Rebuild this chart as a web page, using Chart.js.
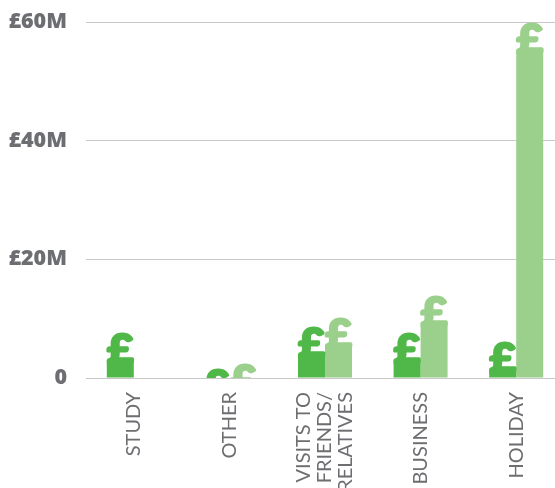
<!DOCTYPE html>
<html>
<head>
<meta charset="utf-8">
<style>
html, body { margin: 0; padding: 0; background: #fff; overflow: hidden; }
#wrap { width: 555px; height: 488px; overflow: hidden; }
</style>
<script src="https://cdn.jsdelivr.net/npm/chart.js@4/dist/chart.umd.js"></script>
</head>
<body>
<div id="wrap"><canvas id="chart" width="564" height="488"></canvas></div>
<script>
// values are in £M, measured to the top of each £ symbol
const categories = ["STUDY", "OTHER", ["VISITS TO", "FRIENDS/", "RELATIVES"], "BUSINESS", "HOLIDAY"];
const darkValues = [7.8, 1.7, 8.8, 7.8, 6.3];
const lightValues = [null, 2.45, 10.2, 14, 60];
const yTicks = [0, 20, 40, 60];

const DARK = "#50b848";
const LIGHT = "#9bd08c";
const TEXT = "#6d6e71";
const GLYPH_H = 28;
const LABEL_LINE = 21;

// bar is see-through for the top part, the £ sits there
function barFill(color) {
    return function (c) {
        const y = c.chart.scales.y;
        if (!y || c.raw == null) return color;
        const top = y.getPixelForValue(c.raw);
        const base = y.getPixelForValue(0);
        if (!isFinite(top) || !isFinite(base) || base <= top) return color;
        const stop = GLYPH_H / (base - top);
        if (stop >= 1) return "rgba(0,0,0,0)";
        const g = c.chart.ctx.createLinearGradient(0, top, 0, base);
        g.addColorStop(0, "rgba(255,255,255,0)");
        g.addColorStop(stop, "rgba(255,255,255,0)");
        g.addColorStop(stop, color);
        g.addColorStop(1, color);
        return g;
    };
}

const poundPlugin = {
    id: "pound",
    // rotated multi-line labels start at the tick, centre them on it instead
    beforeDraw(chart) {
        chart.scales.x.getLabelItems().forEach(function (item) {
            if (Array.isArray(item.label) && !item.centred) {
                item.options.translation[0] -= (item.label.length - 1) * LABEL_LINE / 2;
                item.centred = true;
            }
        });
    },
    afterDatasetsDraw(chart) {
        const ctx = chart.ctx;
        const area = chart.chartArea;
        ctx.save();
        ctx.beginPath();
        ctx.rect(area.left, 0, area.right - area.left, area.bottom);
        ctx.clip();
        ctx.font = "bold 40px Lato";
        ctx.textAlign = "center";
        ctx.textBaseline = "alphabetic";
        ctx.lineWidth = 3;
        ctx.lineJoin = "round";
        chart.data.datasets.forEach(function (ds, i) {
            ctx.fillStyle = ds.glyphColor;
            ctx.strokeStyle = ds.glyphColor;
            chart.getDatasetMeta(i).data.forEach(function (bar, j) {
                if (ds.data[j] == null) return;
                ctx.save();
                ctx.translate(bar.x, bar.y + 31);
                ctx.scale(1.12, 1);
                ctx.fillText("£", 0, 0);
                ctx.strokeText("£", 0, 0);
                ctx.restore();
            });
        });
        ctx.restore();
    }
};

new Chart(document.getElementById("chart").getContext("2d"), {
    type: "bar",
    data: {
        labels: categories,
        datasets: [{
            label: "Dark",
            data: darkValues,
            glyphColor: DARK,
            backgroundColor: barFill(DARK)
        }, {
            label: "Light",
            data: lightValues,
            glyphColor: LIGHT,
            backgroundColor: barFill(LIGHT)
        }]
    },
    options: {
        responsive: false,
        animation: false,
        layout: { padding: { top: 22, left: 0, right: 0, bottom: 0 } },
        datasets: { bar: { barPercentage: 1, categoryPercentage: 0.565 } },
        plugins: { legend: { display: false }, tooltip: { enabled: false } },
        scales: {
            x: {
                grid: { display: false, drawTicks: false },
                border: { color: "#c8c8c8", width: 1 },
                afterFit(s) { s.height = 110; s.paddingLeft = 0; s.paddingRight = 0; },
                ticks: {
                    autoSkip: false,
                    minRotation: 90,
                    maxRotation: 90,
                    padding: 14,
                    color: TEXT,
                    font: { family: "Lato", size: 20, lineHeight: 1.05 }
                }
            },
            y: {
                min: 0,
                max: 60,
                afterFit(s) { s.width = 86; s.paddingTop = 0; s.paddingBottom = 0; },
                afterBuildTicks(s) { s.ticks = yTicks.map(v => ({ value: v })); },
                grid: { color: "#c8c8c8", drawTicks: false },
                border: { display: false },
                ticks: {
                    padding: 19,
                    color: TEXT,
                    font: { family: "Open Sans", size: 21.5, weight: "800" },
                    callback: v => v === 0 ? "0" : "£" + v + "M"
                }
            }
        }
    },
    plugins: [poundPlugin]
});
</script>
</body>
</html>
